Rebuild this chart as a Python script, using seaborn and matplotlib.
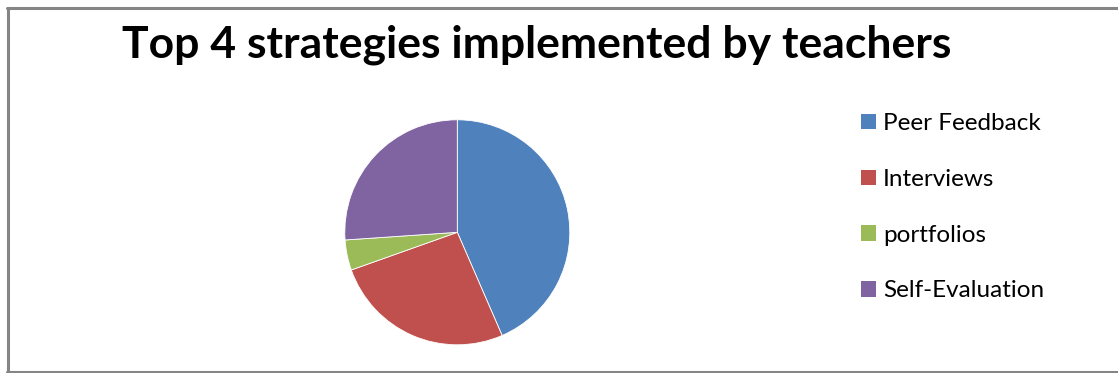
import matplotlib
matplotlib.use("Agg")
import matplotlib.pyplot as plt
from matplotlib.patches import Patch
from matplotlib.lines import Line2D
import seaborn as sns

# Strategy counts reported by teachers
strategies = ["Peer Feedback", "Interviews", "portfolios", "Self-Evaluation"]
counts = [10, 6, 1, 6]
slice_colors = ["#4F81BD", "#C0504D", "#9BBB59", "#8064A2"]
title_text = "Top 4 strategies implemented by teachers"

sns.set_theme(style="white")
plt.rcParams["font.family"] = ["Lato", "DejaVu Sans"]
palette = sns.color_palette(slice_colors)

W, H = 1118, 373
fig = plt.figure(figsize=(W / 100, H / 100), dpi=100)
fig.patch.set_facecolor("white")

# Pie axes: centre (457, 232) px, radius ~112.5 px
cx, cy, r = 457.3, 232.3, 112.5
ax = fig.add_axes([(cx - r) / W, (H - cy - r) / H, 2 * r / W, 2 * r / H])
ax.pie(counts, colors=palette, startangle=90, counterclock=False,
       wedgeprops=dict(edgecolor="white", linewidth=0.6))
ax.set_xlim(-1, 1)
ax.set_ylim(-1, 1)
ax.set_aspect("equal")
ax.axis("off")

# Title
fig.text(537 / W, 1 - 45 / H, title_text, ha="center", va="center",
         fontsize=32, fontweight="bold", color="black")

# Legend
handles = [Patch(facecolor=c, edgecolor="none") for c in palette]
fig.legend(handles, strategies, loc="upper left",
           bbox_to_anchor=(849 / W, 1 - 101 / H), frameon=False,
           fontsize=17.5, handlelength=0.6, handleheight=0.6,
           handletextpad=0.3, labelspacing=1.43, borderpad=0,
           labelcolor="black")

# Chart frame (left, top and bottom edges)
frame_color = "#858585"
lw = 2.2
fig.add_artist(Line2D([7.5 / W, 7.5 / W], [1.5 / H, 1 - 7.5 / H],
                      transform=fig.transFigure, color=frame_color, lw=lw))
fig.add_artist(Line2D([6.5 / W, 1.0], [1 - 7.5 / H, 1 - 7.5 / H],
                      transform=fig.transFigure, color=frame_color, lw=lw))
fig.add_artist(Line2D([6.5 / W, 1.0], [1.5 / H, 1.5 / H],
                      transform=fig.transFigure, color=frame_color, lw=lw))

fig.savefig("out.png", dpi=100, facecolor="white")
